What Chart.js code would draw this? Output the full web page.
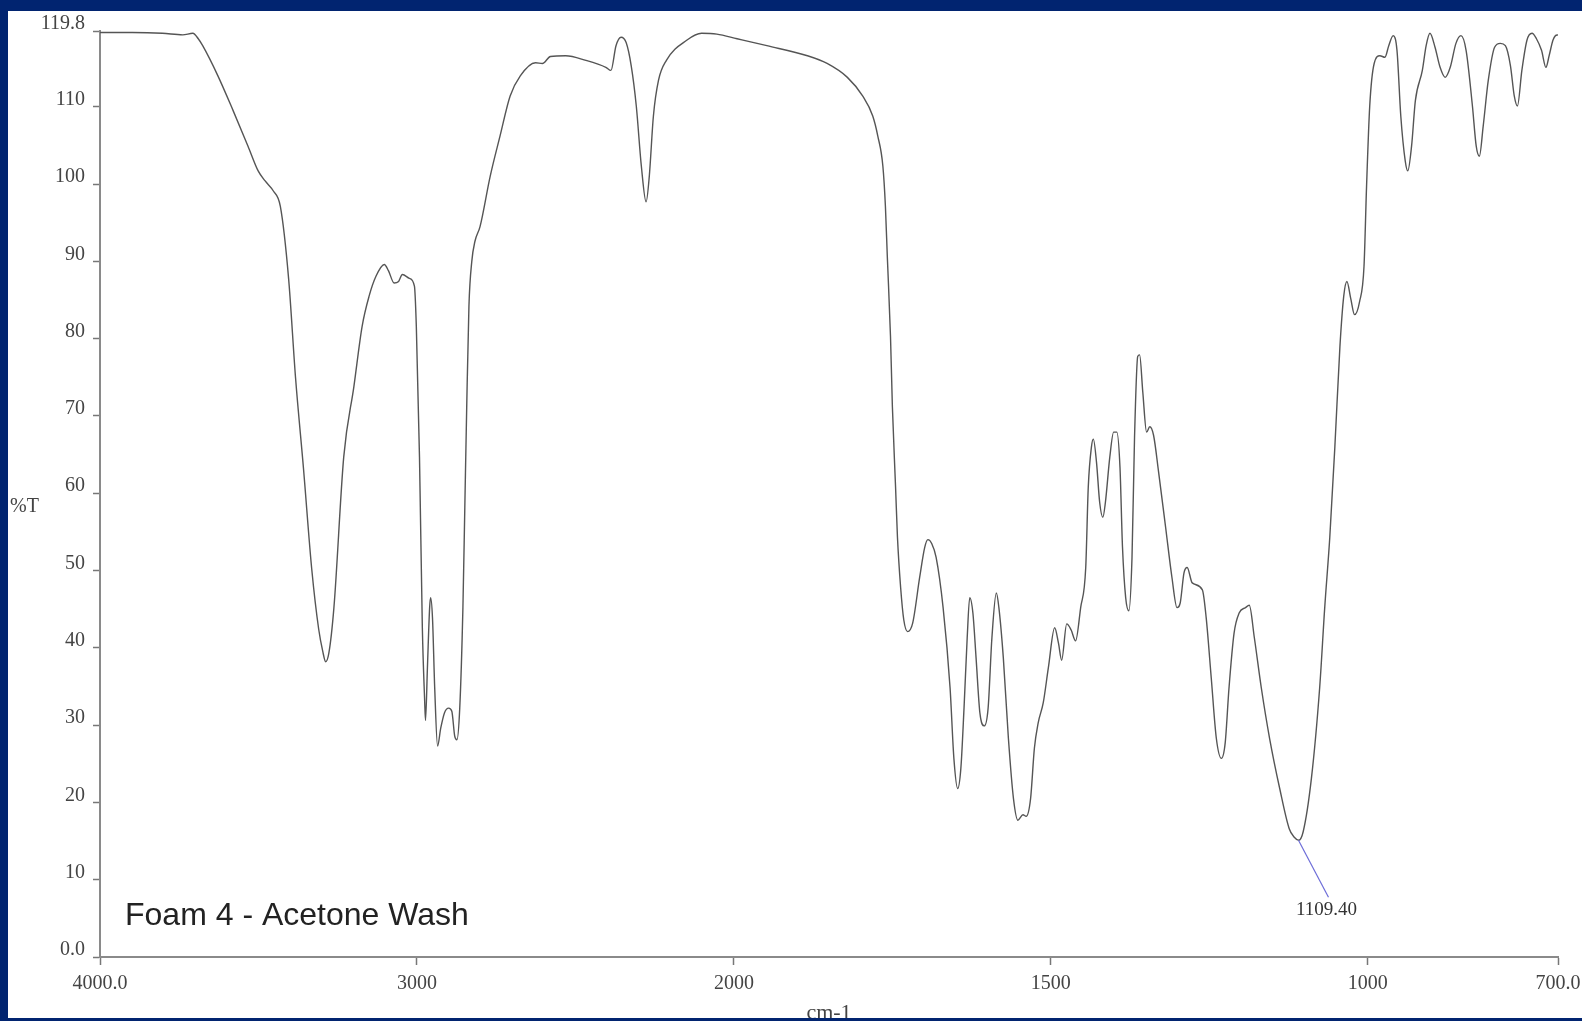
<!DOCTYPE html>
<html>
<head>
<meta charset="utf-8">
<title>Foam 4 - Acetone Wash</title>
<script src="https://cdn.jsdelivr.net/npm/chart.js@4.4.1/dist/chart.umd.min.js"></script>
<style>
  html, body { margin: 0; padding: 0; background: #012470; overflow: hidden; width: 1582px; height: 1021px; }
  #marco { position: absolute; left: 8px; top: 11px; width: 1574px; height: 1007px; background: #fff; overflow: hidden; }
  #espectro { position: absolute; left: 0; top: 0; }
</style>
</head>
<body>
<div id="marco">
  <canvas id="espectro" width="1600" height="1030"></canvas>
</div>
<script>
// Datos del espectro IR
const numerosOnda = [
  4000, 3898, 3803, 3739, 3707, 3690, 3676, 3628, 3580, 3533, 3501, 3479, 3453, 3431, 3405, 3383,
  3358, 3332, 3310, 3297, 3288, 3278, 3262, 3231, 3199, 3173, 3151, 3129, 3103, 3090, 3072, 3058,
  3046, 3024, 3008, 3002, 2992, 2983, 2976, 2973, 2967, 2960, 2957, 2951, 2944, 2935, 2925, 2913,
  2900, 2890, 2881, 2874, 2865, 2855, 2849, 2843, 2836, 2827, 2817, 2801, 2769, 2738, 2706, 2674,
  2626, 2604, 2579, 2531, 2467, 2404, 2388, 2372, 2356, 2340, 2324, 2308, 2292, 2277, 2267, 2254,
  2238, 2213, 2149, 2102, 2054, 1995, 1948, 1884, 1853, 1821, 1797, 1781, 1773, 1765, 1761, 1758,
  1753, 1750, 1745, 1742, 1737, 1732, 1726, 1718, 1707, 1699, 1694, 1688, 1681, 1670, 1659, 1653,
  1647, 1642, 1637, 1632, 1628, 1623, 1618, 1612, 1605, 1599, 1593, 1586, 1582, 1575, 1567, 1559,
  1552, 1544, 1539, 1532, 1526, 1520, 1512, 1504, 1494, 1488, 1483, 1475, 1468, 1461, 1453, 1445,
  1441, 1436, 1433, 1428, 1423, 1418, 1414, 1407, 1401, 1396, 1391, 1387, 1382, 1377, 1372, 1368,
  1363, 1360, 1355, 1349, 1344, 1338, 1330, 1319, 1309, 1301, 1296, 1290, 1285, 1277, 1261, 1255,
  1247, 1239, 1231, 1225, 1219, 1211, 1203, 1193, 1187, 1179, 1168, 1155, 1139, 1124, 1116, 1109,
  1102, 1089, 1076, 1068, 1060, 1052, 1044, 1038, 1033, 1027, 1021, 1013, 1006, 1002, 997, 990,
  981, 973, 967, 960, 954, 948, 941, 937, 931, 925, 914, 908, 902, 894, 886, 878,
  870, 861, 853, 845, 835, 829, 824, 818, 810, 800, 791, 783, 775, 769, 764, 757,
  749, 741, 734, 726, 719, 714, 708, 704, 700
];
const transmitancia = [
  119.6, 119.6, 119.5, 119.3, 119.5, 118.8, 117.9, 114.0, 109.5, 104.9, 101.7, 100.4, 99.1, 97.1, 87.8, 74.9,
  63.2, 50.2, 42.4, 39.5, 38.2, 39.3, 45.2, 64.7, 73.8, 81.6, 85.5, 88.1, 89.6, 88.8, 87.2, 87.4,
  88.3, 87.8, 86.8, 81.6, 64.7, 42.6, 33.5, 30.6, 37.4, 45.2, 46.5, 43.9, 34.8, 27.3, 29.6, 31.6,
  32.2, 31.8, 28.6, 28.1, 32.2, 45.2, 58.2, 71.2, 84.2, 90.0, 92.6, 94.5, 101.0, 106.2, 111.4, 114.0,
  115.7, 115.6, 116.5, 116.6, 116.0, 115.1, 114.7, 117.9, 119.0, 118.3, 115.3, 110.1, 102.3, 97.7, 101.0, 108.8,
  113.4, 116.0, 118.6, 119.5, 119.4, 118.8, 117.9, 116.6, 115.6, 113.8, 111.4, 108.8, 106.2, 102.3, 97.1, 90.6,
  80.3, 71.2, 60.8, 54.3, 47.8, 43.6, 42.1, 43.2, 49.1, 53.0, 54.0, 53.5, 51.7, 45.2, 34.8, 25.7,
  21.8, 24.4, 32.2, 41.3, 46.5, 44.5, 38.7, 31.6, 29.9, 32.2, 41.3, 47.1, 45.2, 38.7, 28.3, 20.5,
  17.7, 18.4, 18.2, 20.5, 27.0, 30.3, 32.9, 37.4, 42.6, 40.6, 38.4, 43.1, 42.3, 40.9, 45.2, 50.4,
  60.8, 66.0, 67.0, 64.0, 58.8, 56.9, 58.8, 64.7, 67.9, 67.9, 63.4, 53.0, 46.5, 44.8, 51.7, 67.3,
  77.7, 77.9, 73.1, 67.9, 68.6, 67.5, 62.7, 55.6, 49.1, 45.2, 45.8, 49.7, 50.4, 48.4, 47.5, 43.9,
  36.1, 28.3, 25.7, 27.7, 34.8, 41.9, 44.5, 45.2, 45.5, 41.3, 34.8, 28.3, 21.8, 16.6, 15.5, 15.1,
  16.2, 23.1, 34.8, 45.2, 54.3, 66.0, 79.0, 85.5, 87.4, 85.2, 83.1, 84.8, 89.4, 99.7, 110.1, 115.6,
  116.6, 116.4, 117.9, 119.2, 117.3, 108.8, 103.0, 101.7, 104.9, 110.8, 114.7, 117.9, 119.5, 117.7, 115.1, 113.8,
  115.1, 118.2, 119.2, 117.3, 110.1, 104.9, 103.6, 107.5, 113.4, 117.7, 118.2, 117.9, 115.3, 111.4, 110.1, 114.7,
  118.6, 119.5, 118.8, 117.3, 115.1, 116.6, 118.6, 119.2, 119.3
];

// Ejes
const ticksX = [4000, 3000, 2000, 1500, 1000, 700];
const etiquetasX = ['4000.0', '3000', '2000', '1500', '1000', '700.0'];
const ticksY = [0, 10, 20, 30, 40, 50, 60, 70, 80, 90, 100, 110, 119.8];
const etiquetasY = ['0.0', '10', '20', '30', '40', '50', '60', '70', '80', '90', '100', '110', '119.8'];

// Pico marcado
const picoOnda = 1109.40;
const picoValor = 15.1;
const picoTexto = '1109.40';

const titulo = 'Foam 4 - Acetone Wash';
const tituloY = '%T';
const tituloX = 'cm-1';

/**
 * Escala de número de onda: 4000–2000 a la mitad de escala que 2000–700
 */
const CORTE = 2000;
class EscalaNumeroOnda extends Chart.LinearScale {
  static id = 'numeroOnda';
  static defaults = Chart.LinearScale.defaults;

  tramo(v) {
    return v >= CORTE ? (this.max - v) / 2 : (this.max - CORTE) / 2 + (CORTE - v);
  }
  getPixelForValue(v) {
    if (v === null || v === undefined) return NaN;
    return this.getPixelForDecimal(this.tramo(v) / this.tramo(this.min));
  }
  getValueForPixel(px) {
    const u = this.getDecimalForPixel(px) * this.tramo(this.min);
    const uCorte = (this.max - CORTE) / 2;
    return u <= uCorte ? this.max - u * 2 : CORTE - (u - uCorte);
  }
}
Chart.register(EscalaNumeroOnda);

// Textos sueltos: título, %T y la marca del pico
const textosExtra = {
  id: 'textosExtra',
  afterDatasetsDraw(chart) {
    const ctx = chart.ctx;
    const x = chart.scales.x.getPixelForValue(picoOnda);
    const y = chart.scales.y.getPixelForValue(picoValor);
    ctx.save();
    ctx.strokeStyle = '#6d6dd8';
    ctx.lineWidth = 1.2;
    ctx.beginPath();
    ctx.moveTo(x, y);
    ctx.lineTo(x + 30, y + 57);
    ctx.stroke();

    ctx.fillStyle = '#333';
    ctx.font = '19px "Liberation Serif"';
    ctx.textAlign = 'center';
    ctx.textBaseline = 'middle';
    ctx.fillText(picoTexto, x + 28, y + 70);

    ctx.textAlign = 'left';
    ctx.textBaseline = 'alphabetic';
    ctx.font = '20px "Liberation Serif"';
    ctx.fillStyle = '#444';
    ctx.fillText(tituloY, 2, 501);

    ctx.font = '32px "Liberation Sans"';
    ctx.fillStyle = '#222';
    ctx.fillText(titulo, chart.chartArea.left + 25, chart.chartArea.bottom - 32);
    ctx.restore();
  }
};

const puntos = numerosOnda.map((w, i) => ({ x: w, y: transmitancia[i] }));
const fuenteEje = { family: '"Liberation Serif"', size: 20 };

new Chart(document.getElementById('espectro'), {
  type: 'line',
  data: {
    datasets: [{
      data: puntos,
      borderColor: '#555',
      borderWidth: 1.4,
      pointRadius: 0,
      fill: false,
      cubicInterpolationMode: 'monotone'
    }]
  },
  options: {
    responsive: false,
    animation: false,
    events: [],
    layout: { padding: { left: 0, top: 16, right: 50, bottom: 0 } },
    plugins: { legend: { display: false }, tooltip: { enabled: false } },
    scales: {
      x: {
        type: 'numeroOnda',
        min: 700,
        max: 4000,
        afterBuildTicks: s => { s.ticks = ticksX.map(v => ({ value: v })); },
        afterFit: s => { s.height = 84; },
        ticks: {
          autoSkip: false, maxRotation: 0, padding: 7, color: '#444', font: fuenteEje,
          callback: (v, i) => etiquetasX[i]
        },
        grid: { drawOnChartArea: false, drawTicks: true, tickLength: 8, color: '#777', tickWidth: 1.5 },
        border: { display: true, color: '#8a8a8a', width: 2 },
        title: {
          display: true, text: tituloX, color: '#444',
          font: { family: '"Liberation Serif"', size: 22 }, padding: { top: 0, bottom: 15 }
        }
      },
      y: {
        min: 0,
        max: 119.8,
        afterBuildTicks: s => { s.ticks = ticksY.map(v => ({ value: v })); },
        afterFit: s => { s.width = 92; },
        ticks: {
          autoSkip: false, padding: 8, labelOffset: -7, color: '#444', font: fuenteEje,
          callback: (v, i) => etiquetasY[i]
        },
        grid: { drawOnChartArea: false, drawTicks: true, tickLength: 7, color: '#777', tickWidth: 1.5 },
        border: { display: true, color: '#8a8a8a', width: 2 }
      }
    }
  },
  plugins: [textosExtra]
});
</script>
</body>
</html>
